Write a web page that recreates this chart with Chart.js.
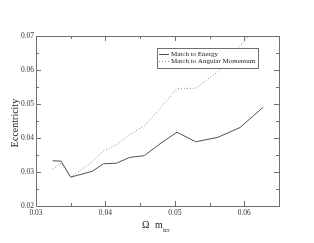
<!DOCTYPE html>
<html>
<head>
<meta charset="utf-8">
<script src="https://cdn.jsdelivr.net/npm/chart.js"></script>
<style>
  html, body { margin: 0; padding: 0; background: #fff; }
  #chart { display: block; }
</style>
</head>
<body>
<canvas id="chart" width="314" height="243"></canvas>
<script>
// data
const omegaM = [0.0324, 0.0336, 0.0350, 0.0381, 0.0397, 0.0416, 0.0435, 0.0456, 0.0480, 0.0503, 0.0530, 0.0562, 0.0594, 0.0627];
const matchEnergy = [0.0333, 0.0332, 0.0285, 0.0302, 0.0324, 0.0326, 0.0343, 0.0348, 0.0385, 0.0417, 0.0389, 0.0402, 0.0431, 0.0490];
const matchAngMom = [0.0309, 0.0326, 0.0285, 0.0330, 0.0362, 0.0380, 0.0410, 0.0436, 0.0490, 0.0546, 0.0546, 0.0595, 0.0670, 0.0750];
const seriesNames = ['Match to Energy', 'Match to Angular Momentum'];
const xTicks = [0.03, 0.04, 0.05, 0.06];
const yTicks = [0.02, 0.03, 0.04, 0.05, 0.06, 0.07];

const SERIF = '"Liberation Serif", "DejaVu Serif", serif';
const FRAME = '#707070';

function pts(ys) {
  return omegaM.map((x, i) => ({ x: x, y: ys[i] }));
}

function isMajor(v, list) {
  return list.some(t => Math.abs(t - v) < 1e-9);
}

// frame, inward ticks on all sides, legend and axis titles
const decor = {
  id: 'decor',
  afterDraw(chart) {
    const ctx = chart.ctx;
    const a = chart.chartArea;
    const xs = chart.scales.x, ys = chart.scales.y;
    ctx.save();
    ctx.strokeStyle = FRAME;
    ctx.lineWidth = 1;
    ctx.strokeRect(Math.round(a.left) + 0.5, Math.round(a.top) + 0.5,
      Math.round(a.right - a.left), Math.round(a.bottom - a.top));

    ctx.beginPath();
    xs.ticks.forEach(t => {
      const px = Math.round(xs.getPixelForValue(t.value)) + 0.5;
      const len = isMajor(t.value, xTicks) ? 5 : 3;
      ctx.moveTo(px, a.bottom); ctx.lineTo(px, a.bottom - len);
      ctx.moveTo(px, a.top); ctx.lineTo(px, a.top + len);
    });
    ys.ticks.forEach(t => {
      const py = Math.round(ys.getPixelForValue(t.value)) + 0.5;
      const len = isMajor(t.value, yTicks) ? 5 : 3;
      ctx.moveTo(a.left, py); ctx.lineTo(a.left + len, py);
      ctx.moveTo(a.right, py); ctx.lineTo(a.right - len, py);
    });
    ctx.stroke();

    // legend box
    const lx = 157.5, ly = 48.5, lw = 101, lh = 20;
    ctx.fillStyle = '#fff';
    ctx.fillRect(lx, ly, lw, lh);
    ctx.strokeStyle = FRAME;
    ctx.strokeRect(lx, ly, lw, lh);
    ctx.font = '7px ' + SERIF;
    ctx.textBaseline = 'middle';
    ctx.textAlign = 'left';
    chart.data.datasets.forEach((ds, i) => {
      const yy = 54.5 + i * 7;
      ctx.beginPath();
      ctx.strokeStyle = ds.borderColor;
      ctx.lineWidth = ds.borderWidth;
      ctx.setLineDash(ds.borderDash || []);
      ctx.moveTo(159, yy); ctx.lineTo(169, yy);
      ctx.stroke();
      ctx.setLineDash([]);
      ctx.fillStyle = '#222';
      ctx.fillText(ds.label, 171, yy);
    });

    // y title
    ctx.fillStyle = '#222';
    ctx.font = '10px ' + SERIF;
    ctx.save();
    ctx.translate(15, 123);
    ctx.rotate(-Math.PI / 2);
    ctx.textAlign = 'center';
    ctx.textBaseline = 'middle';
    ctx.fillText('Eccentricity', 0, 0);
    ctx.restore();

    // x title with subscript
    ctx.textAlign = 'left';
    ctx.textBaseline = 'alphabetic';
    ctx.font = '10px ' + SERIF;
    ctx.fillText('\u03A9', 142, 228);
    ctx.fillText('m', 155, 228);
    ctx.font = '7px ' + SERIF;
    ctx.fillText('irr', 163, 232);
    ctx.restore();
  }
};

new Chart(document.getElementById('chart'), {
  type: 'line',
  data: {
    datasets: [
      {
        label: seriesNames[0],
        data: pts(matchEnergy),
        borderColor: '#505050',
        borderWidth: 1,
        pointRadius: 0,
        tension: 0,
        fill: false
      },
      {
        label: seriesNames[1],
        data: pts(matchAngMom),
        borderColor: '#8a8a8a',
        borderWidth: 1,
        borderDash: [1, 2],
        pointRadius: 0,
        tension: 0,
        fill: false
      }
    ]
  },
  options: {
    responsive: false,
    animation: false,
    layout: { padding: { left: 0, top: 36, right: 35, bottom: 0 } },
    plugins: { legend: { display: false }, tooltip: { enabled: false } },
    scales: {
      x: {
        type: 'linear',
        min: 0.03,
        max: 0.065,
        grid: { display: false, drawTicks: false },
        border: { display: false },
        afterFit(s) { s.height = 37; },
        ticks: {
          stepSize: 0.005,
          autoSkip: false,
          maxRotation: 0,
          padding: 3,
          color: '#333',
          font: { family: SERIF, size: 7.5 },
          callback: v => isMajor(v, xTicks) ? v.toFixed(2) : ''
        }
      },
      y: {
        min: 0.02,
        max: 0.07,
        grid: { display: false, drawTicks: false },
        border: { display: false },
        afterFit(s) { s.width = 36; },
        ticks: {
          stepSize: 0.005,
          autoSkip: false,
          padding: 2,
          color: '#333',
          font: { family: SERIF, size: 7.5 },
          callback: v => isMajor(v, yTicks) ? v.toFixed(2) : ''
        }
      }
    }
  },
  plugins: [decor]
});
</script>
</body>
</html>
